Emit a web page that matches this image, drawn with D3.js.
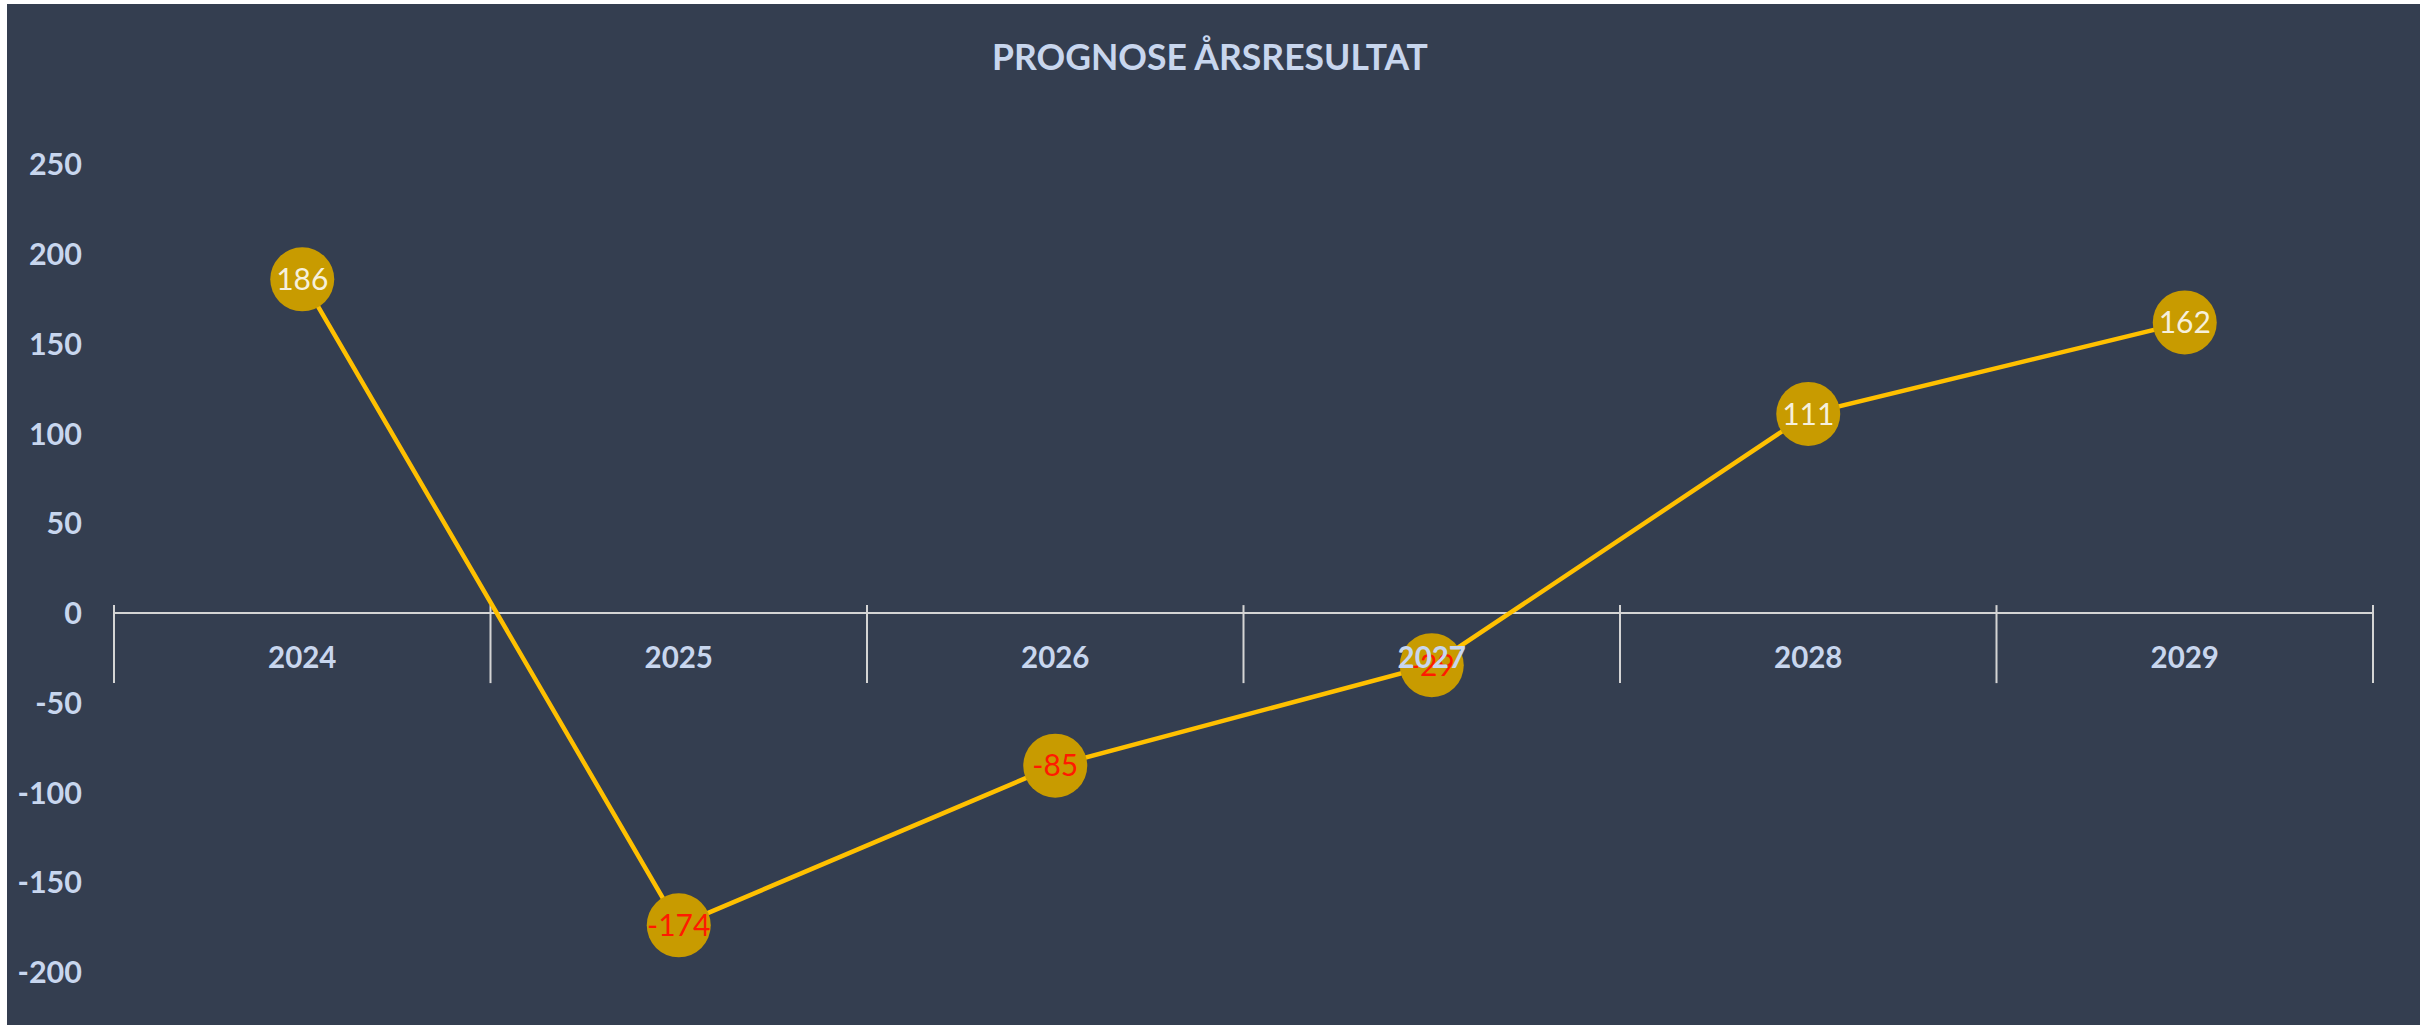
<!DOCTYPE html>
<html>
<head>
<meta charset="utf-8">
<script src="https://cdn.jsdelivr.net/npm/d3@7"></script>
<style>
    html, body { margin: 0; padding: 0; background: #ffffff; overflow: hidden; }
</style>
</head>
<body>
<div id="chart"></div>
<script>
"use strict";

// chart data
const years = ["2024", "2025", "2026", "2027", "2028", "2029"];
const results = [186, -174, -85, -29, 111, 162];
const yTicks = [250, 200, 150, 100, 50, 0, -50, -100, -150, -200];
const title = "PROGNOSE ÅRSRESULTAT";

// sizes
const svgWidth = 2420,
    svgHeight = 1025;

const COLOR = {
    bg: "#343e50",
    axis: "#d4d4d4",
    label: "#c8d6ee",
    line: "#ffc000",
    marker: "#c89b00",
    pos: "#f6f0dc",
    neg: "#ff1a00"
};

const FONT = "Lato, 'Open Sans', sans-serif";

const svg = d3.select("#chart").append("svg")
    .attr("width", svgWidth)
    .attr("height", svgHeight);

// chart area background (white strip left and top like the screenshot)
svg.append("rect")
    .attr("x", 7)
    .attr("y", 4)
    .attr("width", svgWidth - 7)
    .attr("height", svgHeight - 4)
    .attr("fill", COLOR.bg);

// scales
const x = d3.scaleBand()
    .domain(years)
    .range([114, 2373])
    .padding(0);

const y = d3.scaleLinear()
    .domain([-200, 250])
    .range([972, 164.5]);

// title
svg.append("text")
    .attr("x", 1210)
    .attr("y", 70)
    .attr("text-anchor", "middle")
    .attr("font-family", FONT)
    .attr("font-weight", 700)
    .attr("font-size", 35.5)
    .attr("fill", COLOR.label)
    .text(title);

// y tick labels (no axis line)
svg.append("g")
    .selectAll("text")
    .data(yTicks)
    .enter()
    .append("text")
    .attr("x", 82)
    .attr("y", d => y(d))
    .attr("dy", "0.36em")
    .attr("text-anchor", "end")
    .attr("font-family", FONT)
    .attr("font-weight", 700)
    .attr("font-size", 30.5)
    .attr("fill", COLOR.label)
    .text(d => d);

// category axis at zero, ticks between categories
const xAxis = svg.append("g");
const y0 = y(0);

xAxis.append("line")
    .attr("x1", x.range()[0])
    .attr("x2", x.range()[1])
    .attr("y1", y0)
    .attr("y2", y0)
    .attr("stroke", COLOR.axis)
    .attr("stroke-width", 2);

const bounds = years.map(d => x(d)).concat([x.range()[1]]);

xAxis.selectAll(".tick")
    .data(bounds)
    .enter()
    .append("line")
    .attr("class", "tick")
    .attr("x1", d => d)
    .attr("x2", d => d)
    .attr("y1", y0 - 8)
    .attr("y2", y0 + 70)
    .attr("stroke", COLOR.axis)
    .attr("stroke-width", 2);

// the series line
const line = d3.line()
    .x((d, i) => x(years[i]) + x.bandwidth() / 2)
    .y(d => y(d));

svg.append("path")
    .datum(results)
    .attr("d", line)
    .attr("fill", "none")
    .attr("stroke", COLOR.line)
    .attr("stroke-width", 4.5);

// markers
const points = svg.append("g")
    .selectAll("g")
    .data(results)
    .enter()
    .append("g")
    .attr("transform", (d, i) => "translate(" + (x(years[i]) + x.bandwidth() / 2) + "," + y(d) + ")");

points.append("circle")
    .attr("r", 32)
    .attr("fill", COLOR.marker);

points.append("text")
    .attr("dy", "0.36em")
    .attr("text-anchor", "middle")
    .attr("font-family", FONT)
    .attr("font-size", 30)
    .attr("fill", d => d < 0 ? COLOR.neg : COLOR.pos)
    .text(d => d);

// category labels drawn on top of the series
svg.append("g")
    .selectAll("text")
    .data(years)
    .enter()
    .append("text")
    .attr("x", d => x(d) + x.bandwidth() / 2)
    .attr("y", y0 + 44)
    .attr("dy", "0.36em")
    .attr("text-anchor", "middle")
    .attr("font-family", FONT)
    .attr("font-weight", 700)
    .attr("font-size", 29.5)
    .attr("fill", COLOR.label)
    .text(d => d);
</script>
</body>
</html>
